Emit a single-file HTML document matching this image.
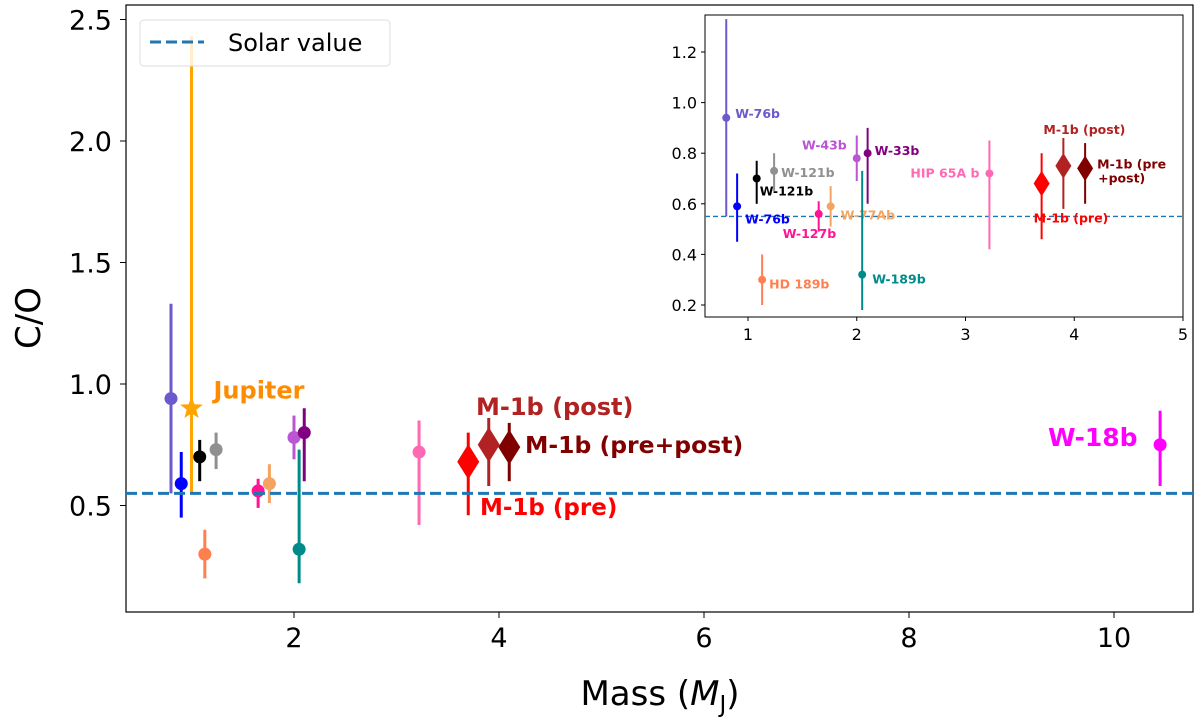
<!DOCTYPE html>
<html><head><meta charset="utf-8"><style>
body{margin:0;background:#fff;}
svg{font-family:"DejaVu Sans","Liberation Sans",sans-serif;}
</style></head><body>
<svg id="chart" width="1200" height="722" xmlns="http://www.w3.org/2000/svg"></svg>
<script>
const names=["W-76b","W-76b","W-121b","W-121b","HD 189b","W-127b","W-77Ab","W-43b","W-33b","W-189b","HIP 65A b","M-1b (pre)","M-1b (post)","M-1b (pre+post)","W-18b"];
const masses=[0.8,0.9,1.08,1.24,1.13,1.65,1.76,2.0,2.1,2.05,3.22,3.7,3.9,4.1,10.45];
const coValues=[0.94,0.59,0.70,0.73,0.30,0.56,0.59,0.78,0.80,0.32,0.72,0.68,0.75,0.74,0.75];
const coLow=[0.55,0.45,0.60,0.65,0.20,0.49,0.51,0.69,0.60,0.18,0.42,0.46,0.58,0.60,0.58];
const coHigh=[1.33,0.72,0.77,0.80,0.40,0.61,0.67,0.87,0.90,0.73,0.85,0.80,0.86,0.84,0.89];
const colors=["#6a5acd","#0000ff","#000000","#909090","#ff7f50","#ff1493","#f4a460","#ba55d3","#800080","#008b8b","#ff69b4","#ff0000","#b22222","#800000","#ff00ff"];
const markers=["o","o","o","o","o","o","o","o","o","o","o","d","d","d","o"];
const jupiter=[1.0,0.90,0.55,2.43];
const solarCO=0.55;
const mainXTicks=[2,4,6,8,10];
const mainYTicks=[0.5,1.0,1.5,2.0,2.5];
const insetXTicks=[1,2,3,4,5];
const insetYTicks=[0.2,0.4,0.6,0.8,1.0,1.2];
// inset label offsets [dx,dy,anchor]
const insetLabels=[[9,-4,"start"],[8,13,"start"],[3,13,"start"],[7,2,"start"],[7,5,"start"],[-36,20,"start"],[10,9,"start"],[-10,-13,"end"],[7,-2,"start"],[10,5,"start"],[-10,0,"end"],[-8,35,"start"],[-20,-36,"start"],[12,-4,"start"]];

const NS="http://www.w3.org/2000/svg";
const svg=document.getElementById('chart');
function el(tag,attrs,parent){const e=document.createElementNS(NS,tag);for(const k in attrs)e.setAttribute(k,attrs[k]);(parent||svg).appendChild(e);return e;}

const mx=v=>89+v*102.5, my=v=>627-v*243;
const mainG=el('g',{});


el('rect',{x:126,y:5,width:1067,height:607,fill:'none',stroke:'#000','stroke-width':1.2},mainG);
mainXTicks.forEach(t=>{el('line',{x1:mx(t),x2:mx(t),y1:612,y2:618,stroke:'#000'},mainG);
 const tx=el('text',{x:mx(t),y:647,'font-size':27,'text-anchor':'middle'},mainG);tx.textContent=t;
 });
mainYTicks.forEach(t=>{el('line',{x1:120,x2:126,y1:my(t),y2:my(t),stroke:'#000'},mainG);
 const tx=el('text',{x:112,y:my(t)+10,'font-size':27,'text-anchor':'end'},mainG);tx.textContent=t.toFixed(1);
 });
const xl=el('text',{x:660,y:705,'font-size':34,'text-anchor':'middle'},mainG);
xl.innerHTML='Mass (<tspan font-style="italic">M</tspan><tspan font-size="23" dy="7">J</tspan><tspan dy="-7">)</tspan>';

const yl=el('text',{x:40,y:318,'font-size':34,'text-anchor':'middle',transform:'rotate(-90 40 318)'},mainG);yl.textContent='C/O';


el('line',{x1:mx(jupiter[0]),x2:mx(jupiter[0]),y1:my(jupiter[2]),y2:my(jupiter[3]),stroke:'#ffa500','stroke-width':3},mainG);
(function(){const cx=mx(jupiter[0]),cy=my(jupiter[1]);let p=[];for(let i=0;i<10;i++){const r=i%2?5:12,a=-Math.PI/2+i*Math.PI/5;p.push((cx+r*Math.cos(a)).toFixed(1)+','+(cy+r*Math.sin(a)).toFixed(1));}
 const s=el('polygon',{points:p.join(' '),fill:'#ffa500'},mainG);
 const t=el('text',{x:cx+22,y:cy-10,'font-size':24,'font-weight':'bold',fill:'#ff8c00'},mainG);t.textContent='Jupiter';
 })();

function drawPoint(g,x,y,lo,hi,c,m,r,dr,lw){
 el('line',{x1:x,x2:x,y1:lo,y2:hi,stroke:c,'stroke-width':lw},g);
 let mk;
 if(m==='d') mk=el('polygon',{points:`${x},${y-dr*1.6} ${x+dr},${y} ${x},${y+dr*1.6} ${x-dr},${y}`,fill:c},g);
 else mk=el('circle',{cx:x,cy:y,r:r,fill:c},g);
 return mk;
}
masses.forEach((m,i)=>{const mk=drawPoint(mainG,mx(m),my(coValues[i]),my(coLow[i]),my(coHigh[i]),colors[i],markers[i],6.5,11,3);
 });
el('line',{x1:126,x2:1193,y1:my(solarCO),y2:my(solarCO),stroke:'#1f77b4','stroke-width':3,'stroke-dasharray':'11,5'},mainG);
[["M-1b (post)",476,415,"#b22222",24],["M-1b (pre+post)",525,453,"#800000",23.5],["M-1b (pre)",480,515,"#ff0000",23],["W-18b",1048,446,"#ff00ff",25]].forEach(a=>{
 const t=el('text',{x:a[1],y:a[2],'font-size':a[4],'font-weight':'bold',fill:a[3]},mainG);t.textContent=a[0];
 });
const lg=el('g',{});
el('rect',{x:140,y:20,width:250,height:46,rx:4,fill:'rgba(255,255,255,0.8)',stroke:'#ddd'},lg);
el('line',{x1:150,x2:204,y1:42,y2:42,stroke:'#1f77b4','stroke-width':3,'stroke-dasharray':'11,5'},lg);
const lt=el('text',{x:228,y:51,'font-size':24},lg);lt.textContent='Solar value';

const ix=v=>748+(v-1)*108.75, iy=v=>305-(v-0.2)*253;
const ig=el('g',{});
el('rect',{x:705,y:15,width:478,height:302,fill:'#fff',stroke:'#000','stroke-width':1},ig);
insetXTicks.forEach(t=>{el('line',{x1:ix(t),x2:ix(t),y1:317,y2:321,stroke:'#000'},ig);
 const tx=el('text',{x:ix(t),y:340,'font-size':16,'text-anchor':'middle'},ig);tx.textContent=t;
 });
insetYTicks.forEach(t=>{el('line',{x1:701,x2:705,y1:iy(t),y2:iy(t),stroke:'#000'},ig);
 const tx=el('text',{x:697,y:iy(t)+6,'font-size':16,'text-anchor':'end'},ig);tx.textContent=t.toFixed(1);
 });
el('line',{x1:705,x2:1183,y1:iy(solarCO),y2:iy(solarCO),stroke:'#1f77b4','stroke-width':1.3,'stroke-dasharray':'5,3'},ig);
masses.forEach((m,i)=>{if(m>5)return;
 const x=ix(m),y=iy(coValues[i]);
 const mk=drawPoint(ig,x,y,iy(coLow[i]),iy(coHigh[i]),colors[i],markers[i],4,8,2);
 
 const o=insetLabels[i];
 const t=el('text',{x:x+o[0],y:y+o[1]+4,'font-size':12.5,'font-weight':'bold',fill:colors[i],'text-anchor':o[2]},ig);
 if(i===13){t.innerHTML='<tspan>M-1b (pre</tspan><tspan x="'+(x+o[0]+1)+'" dy="14">+post)</tspan>';}
 else t.textContent=names[i];
 });
</script>
</body></html>
